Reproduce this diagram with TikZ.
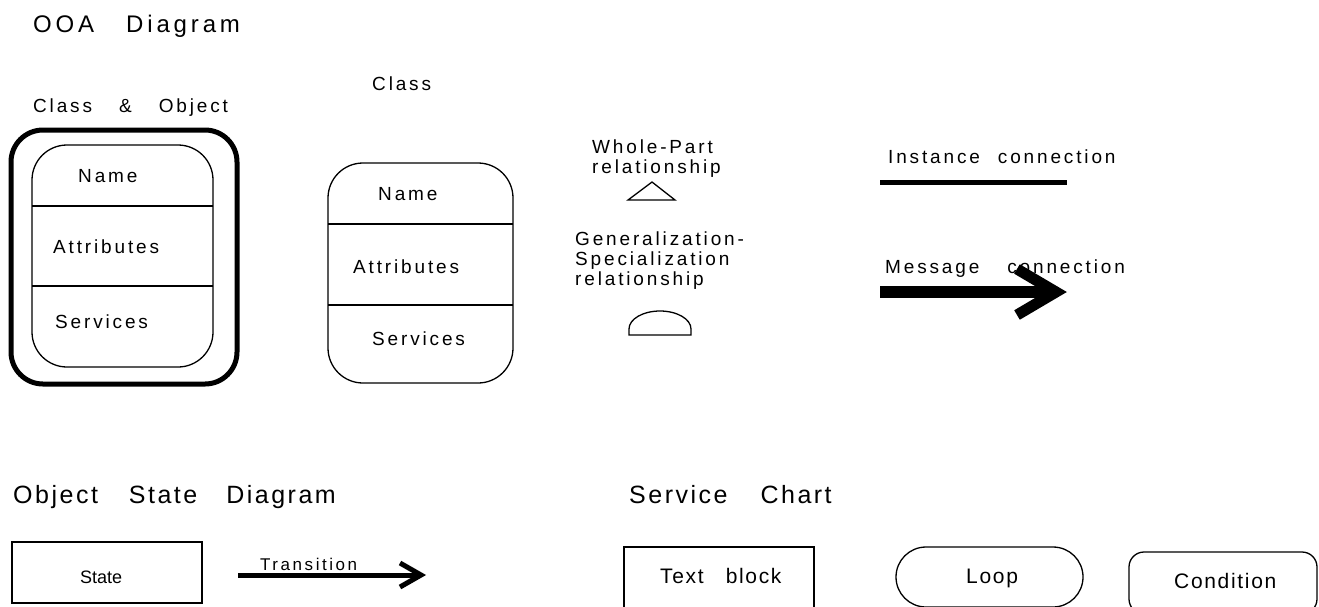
\documentclass[tikz,border=0pt]{standalone}
\usepackage{fontspec}
\setmainfont{Liberation Sans}
\newfontfamily\fontSm{Liberation Sans}[LetterSpace=15]
\newfontfamily\fontHd{Liberation Sans}[LetterSpace=16]
\newfontfamily\fontHb{Liberation Sans}[LetterSpace=10]
\newfontfamily\fontPl{Liberation Sans}[LetterSpace=8]
\newcommand\wgap[1]{\hspace*{#1pt}}
\begin{document}
\begin{tikzpicture}[x=1pt,y=-1pt,
  sm/.style={inner sep=0pt, anchor=base west, font=\fontSm\fontsize{19}{20}\selectfont},
  smblk/.style={inner sep=0pt, anchor=north west, align=left, font=\fontSm\fontsize{19}{20}\selectfont},
  hdA/.style={inner sep=0pt, anchor=base west, font=\fontHd\fontsize{24}{26}\selectfont},
  hdB/.style={inner sep=0pt, anchor=base west, font=\fontHb\fontsize{25}{27}\selectfont},
  pl/.style={inner sep=0pt, anchor=base west, font=\fontPl\fontsize{21}{23}\selectfont},
  box/.style={draw, line width=1.3pt, inner sep=0pt, minimum width=#1},
  box/.default=10pt,
  thinline/.style={line width=1.3pt}
]
\useasboundingbox (0,0) rectangle (1319,606);
\clip (0,0) rectangle (1319,606);

% headings
\node[hdA] (ooa) at (33,32) {OOA\wgap{32}Diagram};
\node[hdB] (osd) at (13,503) {Object\wgap{31}State\wgap{29}Diagram};
\node[hdB] (sc) at (629,503) {Service\wgap{33}Chart};

% Class & Object
\node[sm] (clsobjlbl) at (33,112) {Class\wgap{27}\&\wgap{27}Object};
\node[box=226pt, line width=5pt, rounded corners=32pt, minimum height=254pt] (outer) at (124,257) {};
\node[box=181pt, rounded corners=35pt, minimum height=222pt] (inner) at (122.5,256) {};
\draw[thinline] (32,206) -- (213,206);
\draw[thinline] (32,286) -- (213,286);
\node[sm] (n1) at (78,182) {Name};
\node[sm] (a1) at (53,253) {Attributes};
\node[sm] (s1) at (55,328) {Services};

% Class
\node[sm] (clslbl) at (372,90) {Class};
\node[box=185pt, rounded corners=35pt, minimum height=220pt] (cls) at (420.5,273) {};
\draw[thinline] (328,224) -- (513,224);
\draw[thinline] (328,305) -- (513,305);
\node[sm] (n2) at (378,200) {Name};
\node[sm] (a2) at (353,273) {Attributes};
\node[sm] (s2) at (372,345) {Services};

% relationships
\node[smblk] (wp) at (592,140) {Whole-Part\\relationship};
\draw[thinline] (628,200) -- (652,182) -- (675,200) -- cycle;
\node[smblk] (gs) at (575,232) {Generalization-\\Specialization\\relationship};
\draw[thinline] (629,329) arc[start angle=180, end angle=0, x radius=31pt, y radius=18pt] -- (691,335) -- (629,335) -- cycle;

% connections
\node[sm] (inst) at (888,163) {Instance\wgap{18}connection};
\coordinate (ic1) at (880,182);
\coordinate (ic2) at (1067,182);
\draw[line width=5pt] (ic1) -- (ic2);

\node[sm] (msg) at (885,273) {Message\wgap{28}connection};
\coordinate (mc1) at (880,292);
\coordinate (mc2) at (1056,292);
\coordinate (mb1) at (1017,269);
\coordinate (mb2) at (1017,315);
\draw[line width=12pt] (mc1) -- (mc2);
\draw[line width=11pt, line join=miter] (mb1) -- (mc2) -- (mb2);

% Object state diagram
\node[box=190pt, minimum height=61pt] (state) at (107,572.5) {};
\node[inner sep=0pt, anchor=base west, font=\fontsize{18}{20}\selectfont] (statetxt) at (80,583) {State};
\node[inner sep=0pt, anchor=base west, font=\fontSm\fontsize{17}{19}\selectfont] (trtxt) at (260,570) {Transition};
\coordinate (tr1) at (238,575);
\coordinate (tr2) at (421,575);
\coordinate (tb1) at (400,563);
\coordinate (tb2) at (400,587);
\draw[line width=5pt] (tr1) -- (tr2);
\draw[line width=5pt, line join=miter] (tb1) -- (tr2) -- (tb2);

% Service chart
\node[box=190pt, minimum height=66pt] (tblock) at (719,580) {};
\node[pl] (tbtxt) at (660,583) {Text\wgap{22}block};
\node[box=187pt, rounded corners=30pt, minimum height=60pt] (loop) at (989.5,577) {};
\node[pl] (looptxt) at (966,583) {Loop};
\node[box=188pt, rounded corners=15pt, minimum height=62pt] (cond) at (1223,583) {};
\node[pl] (condtxt) at (1174,588) {Condition};
\end{tikzpicture}
\end{document}
